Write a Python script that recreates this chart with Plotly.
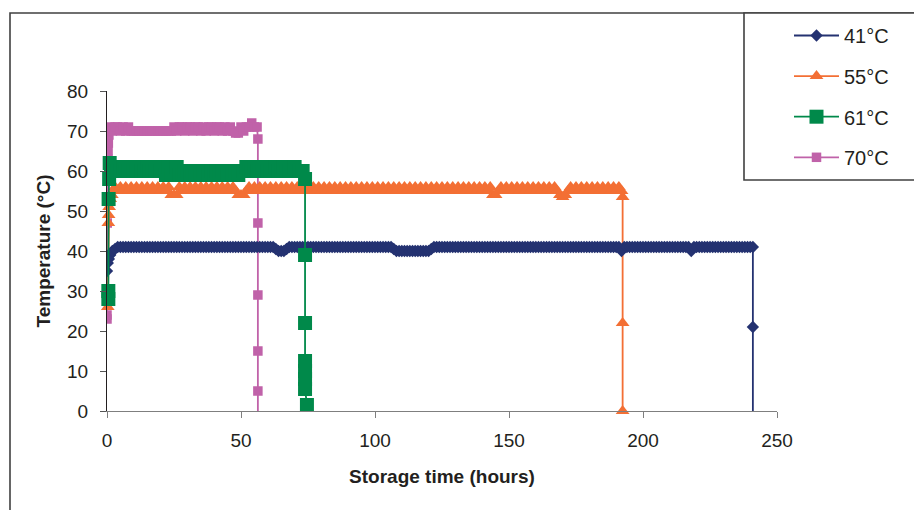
import plotly.graph_objects as go

# ---------------- data ----------------
series_names = ["41°C", "55°C", "61°C", "70°C"]

# 41 °C  (navy, diamonds)
t41_early = [0, 0.3, 0.7, 1.2, 2, 3]
v41_early = [35, 37, 38, 39, 40, 40.5]
t41_hourly = list(range(4, 242))          # logger readings every hour, 4..241 h
v41_hourly = [
    41, 41, 41, 41, 41, 41, 41, 41, 41, 41,      # 4-13
    41, 41, 41, 41, 41, 41, 41, 41, 41, 41,      # 14-23
    41, 41, 41, 41, 41, 41, 41, 41, 41, 41,      # 24-33
    41, 41, 41, 41, 41, 41, 41, 41, 41, 41,      # 34-43
    41, 41, 41, 41, 41, 41, 41, 41, 41, 41,      # 44-53
    41, 41, 41, 41, 41, 41, 41, 41, 41, 40.5,    # 54-63
    40, 40, 40, 40.5, 41, 41, 41, 41, 41, 41,    # 64-73
    41, 41, 41, 41, 41, 41, 41, 41, 41, 41,      # 74-83
    41, 41, 41, 41, 41, 41, 41, 41, 41, 41,      # 84-93
    41, 41, 41, 41, 41, 41, 41, 41, 41, 41,      # 94-103
    41, 41, 41, 40.5, 40, 40, 40, 40, 40, 40,    # 104-113
    40, 40, 40, 40, 40, 40, 40, 40.5, 41, 41,    # 114-123
    41, 41, 41, 41, 41, 41, 41, 41, 41, 41,      # 124-133
    41, 41, 41, 41, 41, 41, 41, 41, 41, 41,      # 134-143
    41, 41, 41, 41, 41, 41, 41, 41, 41, 41,      # 144-153
    41, 41, 41, 41, 41, 41, 41, 41, 41, 41,      # 154-163
    41, 41, 41, 41, 41, 41, 41, 41, 41, 41,      # 164-173
    41, 41, 41, 41, 41, 41, 41, 41, 41, 41,      # 174-183
    41, 41, 41, 41, 41, 41, 41, 41, 40, 41,      # 184-193
    41, 41, 41, 41, 41, 41, 41, 41, 41, 41,      # 194-203
    41, 41, 41, 41, 41, 41, 41, 41, 41, 41,      # 204-213
    41, 41, 41, 41, 40, 41, 41, 41, 41, 41,      # 214-223
    41, 41, 41, 41, 41, 41, 41, 41, 41, 41,      # 224-233
    41, 41, 41, 41, 41, 41, 41, 41,              # 234-241
]
t41_end = [241, 241]
v41_end = [21, -3]

# 55 °C  (orange, triangles) - readings flicker between 55 and 56
t55_early = [0.3, 0.5, 0.6, 0.8, 1.2, 1.8, 2.5]
v55_early = [26, 47, 49, 51, 53, 54, 55]
t55_hourly = list(range(3, 193))          # 3..192 h
v55_hourly = [
    56, 55, 56, 55, 56, 55, 56, 55, 56, 55,      # 3-12
    56, 55, 56, 55, 56, 55, 56, 55, 56, 55,      # 13-22
    56, 54, 54, 54, 56, 55, 56, 55, 56, 55,      # 23-32
    56, 55, 56, 55, 56, 55, 56, 55, 56, 55,      # 33-42
    56, 55, 56, 55, 56, 55, 54, 54, 54, 55,      # 43-52
    56, 55, 56, 55, 56, 55, 56, 55, 56, 55,      # 53-62
    56, 55, 56, 55, 56, 55, 56, 55, 56, 55,      # 63-72
    56, 55, 56, 55, 56, 55, 56, 55, 56, 55,      # 73-82
    56, 55, 56, 55, 56, 55, 56, 55, 56, 55,      # 83-92
    56, 55, 56, 55, 56, 55, 56, 55, 56, 55,      # 93-102
    56, 55, 56, 55, 56, 55, 56, 55, 56, 55,      # 103-112
    56, 55, 56, 55, 56, 55, 56, 55, 56, 55,      # 113-122
    56, 55, 56, 55, 56, 55, 56, 55, 56, 55,      # 123-132
    56, 55, 56, 55, 56, 55, 56, 55, 56, 55,      # 133-142
    56, 54, 54, 55, 56, 55, 56, 55, 56, 55,      # 143-152
    56, 55, 56, 55, 56, 55, 56, 55, 56, 55,      # 153-162
    56, 55, 56, 55, 56, 55, 54, 53.5, 54, 55,    # 163-172
    56, 55, 56, 55, 56, 55, 56, 55, 56, 55,      # 173-182
    56, 55, 56, 55, 56, 55, 56, 55, 56, 55,      # 183-192
]
t55_end = [192.4, 192.4, 192.4]
v55_end = [53.5, 22, 0]

# 61 °C  (green, big squares)
t61_early = [0.5, 0.5, 0.6, 0.8, 1.0, 1.5]
v61_early = [28, 30, 53, 58, 62, 61]
t61_hourly = list(range(2, 74))           # 2..73 h
v61_hourly = [
    60, 61, 60, 60, 61, 60, 60, 61, 60, 60,      # 2-11
    61, 60, 60, 61, 60, 60, 60, 61, 60, 60,      # 12-21
    59, 61, 59, 59, 61, 59, 59, 60, 60, 59,      # 22-31
    60, 59, 60, 59, 60, 59, 59, 60, 59, 60,      # 32-41
    59, 60, 59, 59, 60, 59, 60, 59, 60, 60,      # 42-51
    61, 60, 60, 61, 60, 60, 60, 61, 60, 60,      # 52-61
    60, 61, 60, 60, 61, 60, 60, 60, 61, 60,      # 62-71
    60, 60,                                      # 72-73
]
t61_end = [73.9, 73.9, 73.9, 73.9, 73.9, 73.9, 73.9, 74.6]
v61_end = [58, 39, 22, 12.5, 10, 8, 5.5, 1.5]

# 70 °C  (pink, small squares)
t70_early = [0, 0, 0.1, 0.2, 0.3, 0.4, 0.5, 0.7]
v70_early = [23, 24, 47, 61, 63, 65, 67, 69]
t70_hourly = list(range(1, 57))           # 1..56 h
v70_hourly = [
    71, 70, 71, 71, 70, 71, 70, 71, 70, 70,      # 1-10
    70, 70, 70, 70, 70, 70, 70, 70, 70, 70,      # 11-20
    70, 70, 70, 70, 71, 70, 71, 71, 70, 71,      # 21-30
    71, 70, 71, 71, 70, 71, 70, 71, 71, 70,      # 31-40
    71, 71, 70, 71, 70, 71, 70, 69.5, 69.5, 71,  # 41-50
    70, 71, 71, 72, 71, 71,                      # 51-56
]
t70_end = [56.3, 56.3, 56.3, 56.3, 56.3, 56.3]
v70_end = [68, 47, 29, 15, 5, -3]

x_ticks = [0, 50, 100, 150, 200, 250]
y_ticks = [0, 10, 20, 30, 40, 50, 60, 70, 80]

# ---------------- styling ----------------
FONT = "Liberation Sans, Arial, sans-serif"
C41, C55, C61, C70 = "#243271", "#F36F34", "#00894A", "#C062A9"

# the page puts the figure 8 px in from the window's top-left corner
OFF = 8
W, H = 922, 510
ML, MT = 107 - OFF, 91 - OFF
PW, PH = 670, 320
MR, MB = W - ML - PW, H - MT - PH


def px(screen_x):
    return (screen_x - OFF - ML) / PW


def py(screen_y):
    return (MT + PH - (screen_y - OFF)) / PH


fig = go.Figure()

traces = [
    # name, times, values, colour, symbol, size, legendrank, clip
    (series_names[3], t70_early + t70_hourly + t70_end, v70_early + v70_hourly + v70_end,
     C70, "square", 9.5, 4, True),
    (series_names[1], t55_early + t55_hourly + t55_end, v55_early + v55_hourly + v55_end,
     C55, "triangle-up", 12, 2, False),
    (series_names[0], t41_early + t41_hourly + t41_end, v41_early + v41_hourly + v41_end,
     C41, "diamond", 9.5, 1, True),
    (series_names[2], t61_early + t61_hourly + t61_end, v61_early + v61_hourly + v61_end,
     C61, "square", 14, 3, False),
]

for name, tx, vy, col, sym, size, rank, clip in traces:
    fig.add_trace(go.Scatter(
        x=tx, y=vy, name=name, mode="lines+markers",
        line=dict(color=col, width=1.8),
        marker=dict(color=col, symbol=sym, size=size, line=dict(width=0)),
        legendrank=rank, legendgroup=name, cliponaxis=clip,
    ))

fig.update_layout(
    width=W, height=H,
    margin=dict(l=ML, r=MR, t=MT, b=MB, pad=0, autoexpand=False),
    paper_bgcolor="white", plot_bgcolor="white",
    font=dict(family=FONT, color="#231F20"),
    showlegend=True,
    legend=dict(
        x=px(789), y=py(16), xanchor="left", yanchor="top",
        bgcolor="rgba(0,0,0,0)", borderwidth=0,
        font=dict(size=20, family=FONT, color="#231F20"),
        tracegroupgap=11.6, itemwidth=45,
    ),
    xaxis=dict(
        range=[0, 250], tickvals=x_ticks, ticktext=[str(v) for v in x_ticks],
        showgrid=False, zeroline=False,
        showline=True, linecolor="#7F7F7F", linewidth=1.2,
        ticks="outside", ticklen=6, tickcolor="#7F7F7F", tickwidth=1.2,
        tickfont=dict(size=19, family=FONT, color="#231F20"),
        ticklabelstandoff=6,
        title=dict(text="Storage time (hours)",
                   font=dict(size=19, family=FONT, color="#231F20", weight="bold"),
                   standoff=19),
    ),
    yaxis=dict(
        range=[0, 80], tickvals=y_ticks, ticktext=[str(v) for v in y_ticks],
        showgrid=False, zeroline=False,
        showline=True, linecolor="#231F20", linewidth=1.2,
        ticks="outside", ticklen=6, tickcolor="#555555", tickwidth=1.2,
        tickfont=dict(size=19, family=FONT, color="#231F20"),
        ticklabelstandoff=8,
        title=dict(text="Temperature (°C)",
                   font=dict(size=19, family=FONT, color="#231F20", weight="bold"),
                   standoff=11),
    ),
    shapes=[
        # outer chart frame (runs off the right and bottom edges)
        dict(type="rect", xref="paper", yref="paper",
             x0=px(10), x1=px(940), y0=py(530), y1=py(13),
             line=dict(color="#404040", width=1.6), fillcolor="rgba(0,0,0,0)", layer="below"),
        # legend box (runs off the right edge)
        dict(type="rect", xref="paper", yref="paper",
             x0=px(744), x1=px(940), y0=py(180), y1=py(13),
             line=dict(color="#404040", width=1.6), fillcolor="white", layer="below"),
    ],
)

fig.write_html("out.html")
